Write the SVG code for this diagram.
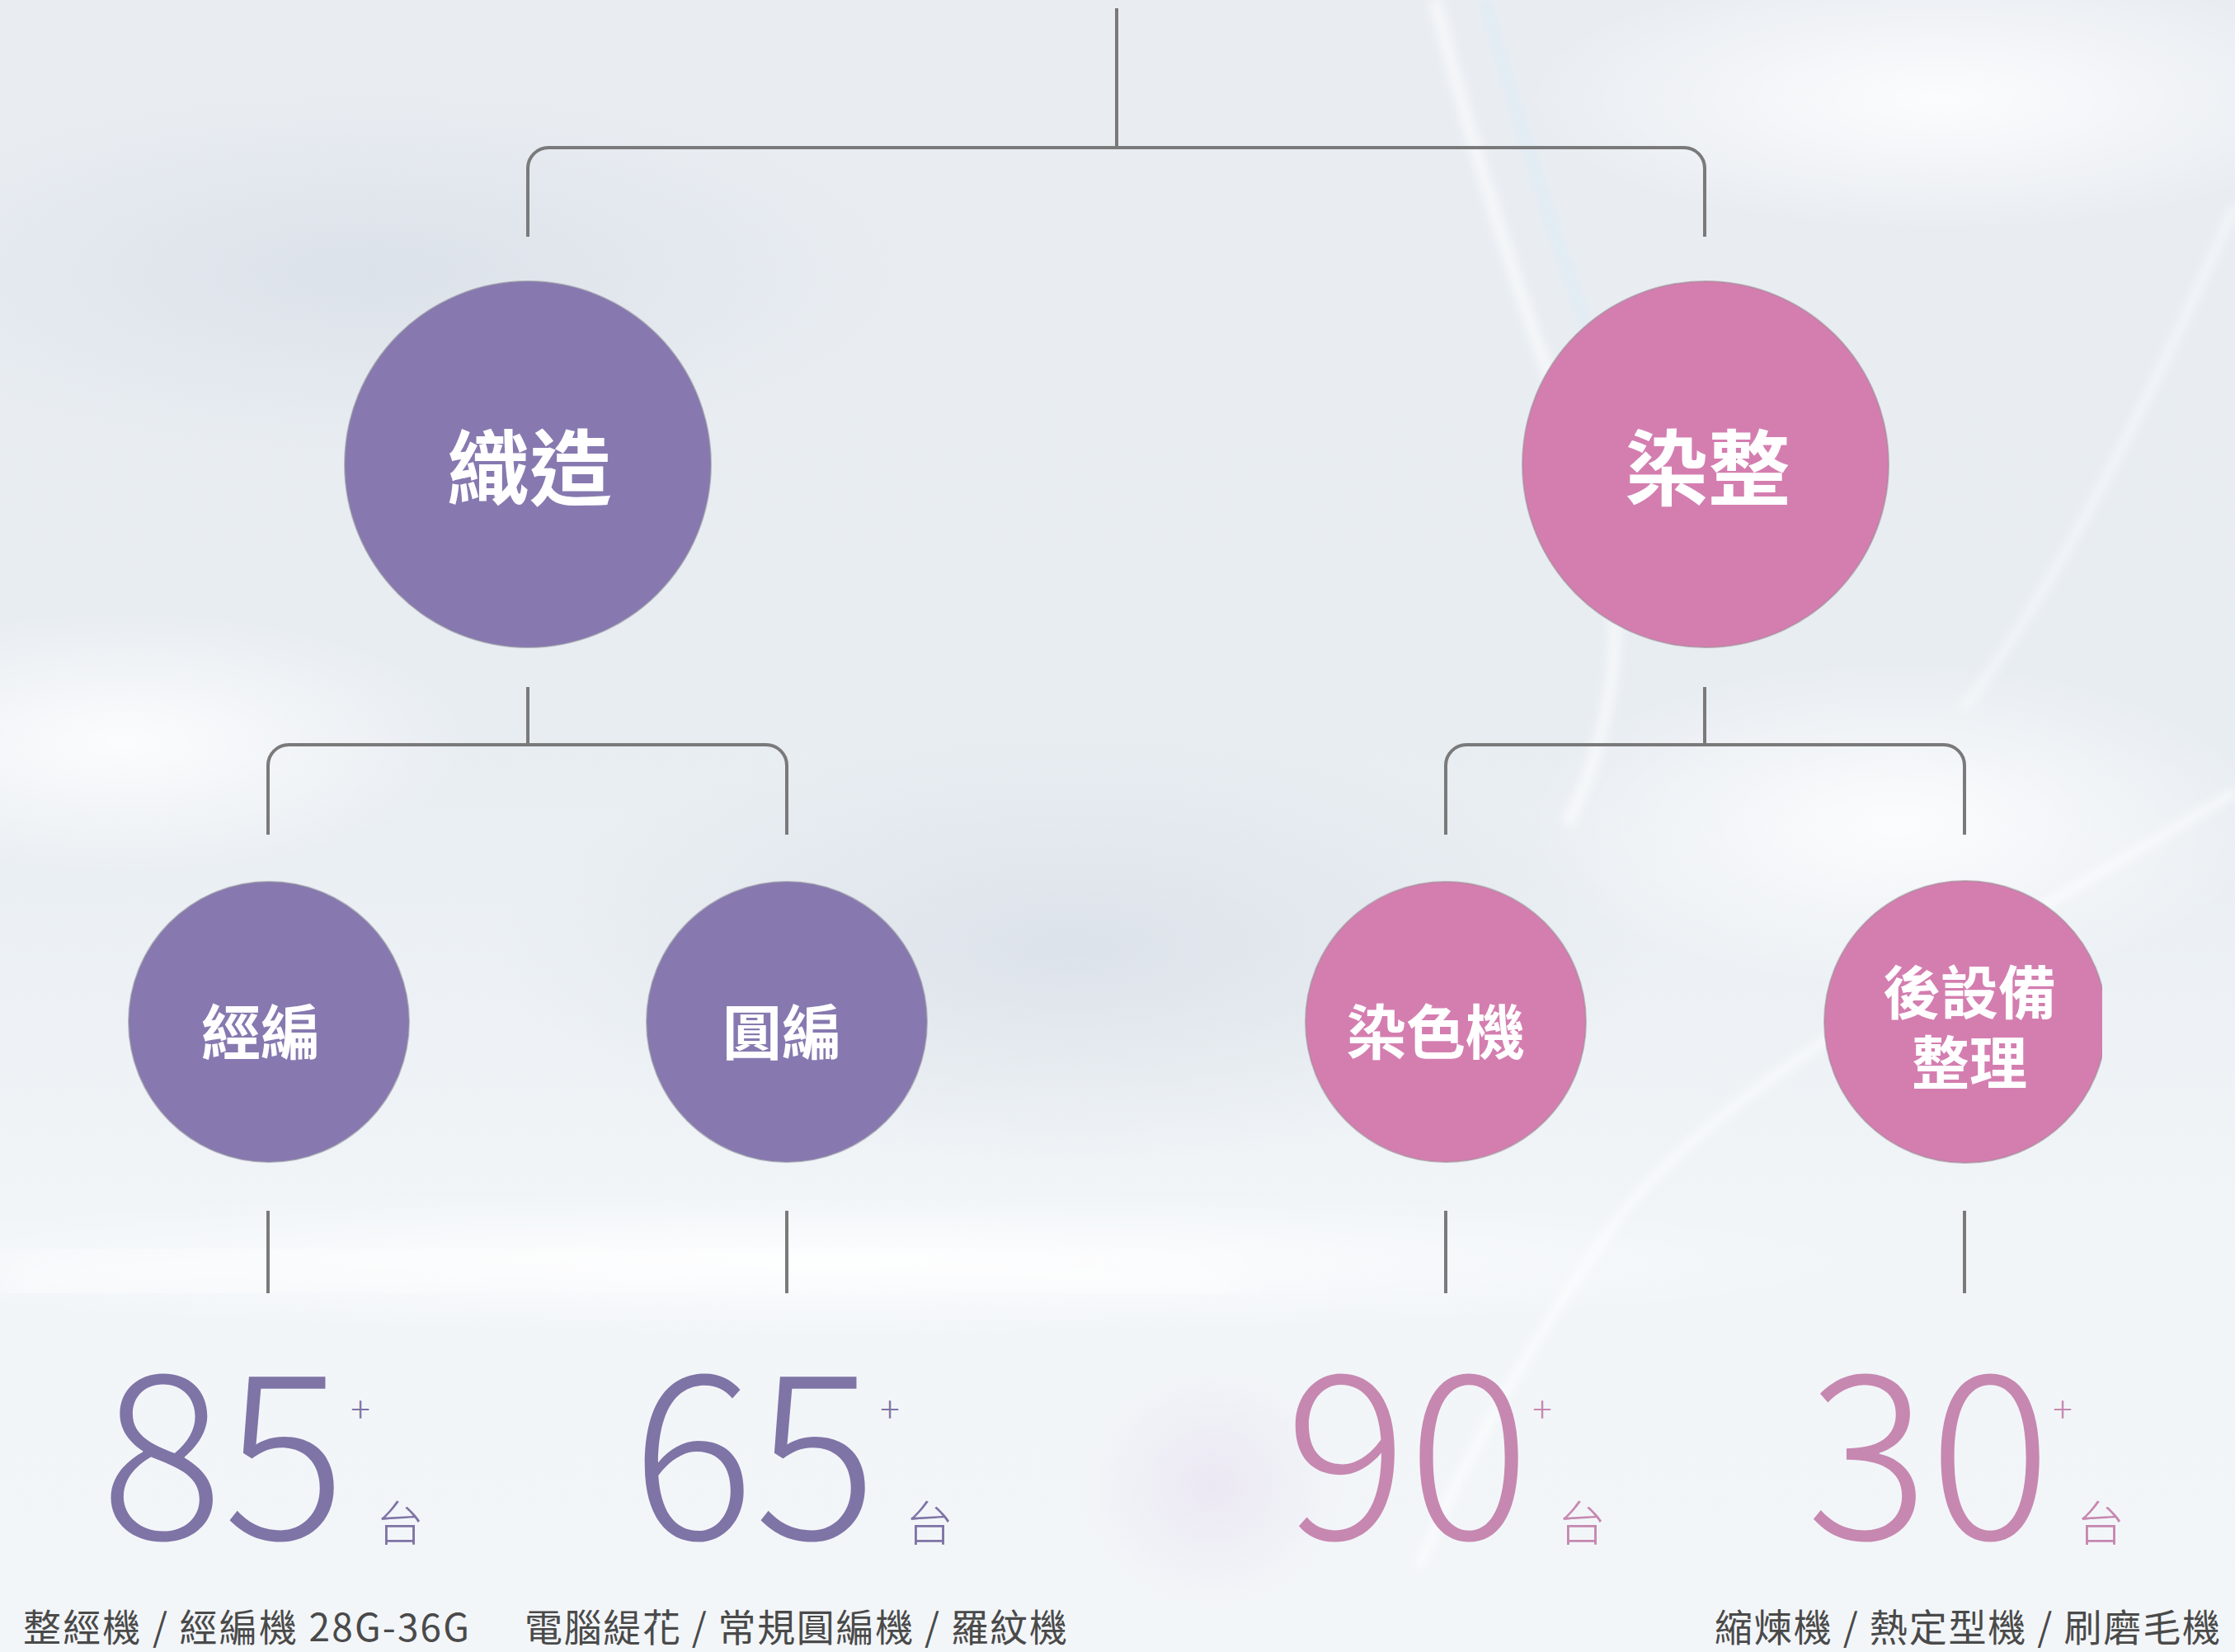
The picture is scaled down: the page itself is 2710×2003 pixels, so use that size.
<svg xmlns="http://www.w3.org/2000/svg" width="2710" height="2003" viewBox="0 0 2710 2003">
<defs>
  <linearGradient id="bg" x1="0" y1="0" x2="0" y2="1">
    <stop offset="0" stop-color="#e9edf2"/>
    <stop offset="0.45" stop-color="#e8edf2"/>
    <stop offset="0.75" stop-color="#f1f5f8"/>
    <stop offset="1" stop-color="#f3f6f9"/>
  </linearGradient>
  <radialGradient id="wblob" cx="0.5" cy="0.5" r="0.5">
    <stop offset="0" stop-color="#ffffff" stop-opacity="0.85"/>
    <stop offset="1" stop-color="#ffffff" stop-opacity="0"/>
  </radialGradient>
  <radialGradient id="gblob" cx="0.5" cy="0.5" r="0.5">
    <stop offset="0" stop-color="#d9dfe7" stop-opacity="0.8"/>
    <stop offset="1" stop-color="#d9dfe7" stop-opacity="0"/>
  </radialGradient>
  <radialGradient id="pblob" cx="0.5" cy="0.5" r="0.5">
    <stop offset="0" stop-color="#e6dcee" stop-opacity="0.55"/>
    <stop offset="1" stop-color="#e6dcee" stop-opacity="0"/>
  </radialGradient>
  <filter id="soft" x="-20%" y="-20%" width="140%" height="140%">
    <feGaussianBlur stdDeviation="6"/>
  </filter>
  <filter id="soft2" x="-20%" y="-20%" width="140%" height="140%">
    <feGaussianBlur stdDeviation="30"/>
  </filter>
  <clipPath id="clipR">
    <rect x="2150" y="1000" width="399" height="500"/>
  </clipPath>
  <style>
    .conn { fill: none; stroke: #7a7a7a; stroke-width: 4; stroke-linecap: butt; }
    .purple { fill: #8779b0; stroke: #8c8a9a; stroke-opacity: 0.55; stroke-width: 2; }
    .pink { fill: #d47eb0; stroke: #9a8a94; stroke-opacity: 0.55; stroke-width: 2; }
    .lbl { fill: #ffffff; font-family: "Noto Sans CJK TC", "Noto Sans CJK SC", sans-serif; font-weight: 700; text-anchor: middle; dominant-baseline: central; }
    .big { font-size: 100px; }
    .small { font-size: 72px; }
    .small2 { font-size: 70px; }
    .num { font-family: "Noto Sans CJK TC", "Noto Sans", sans-serif; font-weight: 300; font-size: 278px; }
    .plus { font-family: "Noto Sans CJK TC", sans-serif; font-weight: 300; font-size: 44px; text-anchor: middle; }
    .tai { font-family: "Noto Sans CJK TC", sans-serif; font-weight: 300; font-size: 58px; text-anchor: middle; dominant-baseline: central; }
    .cp { fill: #7f74a6; }
    .cr { fill: #c688b0; }
    .desc { fill: #4a4a4a; font-family: "Noto Sans CJK TC", "Noto Sans CJK SC", sans-serif; font-weight: 400; font-size: 46px; dominant-baseline: central; }
  </style>
</defs>

<g id="background">
  <rect x="0" y="0" width="2710" height="2003" fill="url(#bg)"/>
  <ellipse cx="450" cy="330" rx="650" ry="220" fill="url(#gblob)"/>
  <ellipse cx="1300" cy="1150" rx="700" ry="260" fill="url(#gblob)"/>
  <ellipse cx="150" cy="900" rx="420" ry="160" fill="url(#wblob)"/>
  <ellipse cx="2350" cy="120" rx="500" ry="160" fill="url(#wblob)"/>
  <ellipse cx="1000" cy="1530" rx="1300" ry="90" fill="url(#wblob)"/>
  <ellipse cx="2300" cy="1000" rx="450" ry="200" fill="url(#wblob)"/>
  <ellipse cx="1470" cy="1800" rx="160" ry="150" fill="url(#pblob)"/>
  <path d="M1740,0 C1790,200 1860,420 1940,620 C1980,760 1950,900 1900,1000" fill="none" stroke="#ffffff" stroke-width="14" stroke-opacity="0.6" filter="url(#soft)"/>
  <path d="M1800,0 C1850,180 1920,400 2000,600" fill="none" stroke="#d6eaf5" stroke-width="8" stroke-opacity="0.7" filter="url(#soft)"/>
  <path d="M2710,960 C2400,1150 2100,1300 1960,1480 C1860,1620 1780,1760 1720,1900" fill="none" stroke="#ffffff" stroke-width="9" stroke-opacity="0.7" filter="url(#soft)"/>
  <path d="M2710,250 C2600,500 2500,700 2380,860" fill="none" stroke="#ffffff" stroke-width="10" stroke-opacity="0.5" filter="url(#soft)"/>
  <path d="M0,1560 C500,1500 1000,1520 1500,1560" fill="none" stroke="#ffffff" stroke-width="60" stroke-opacity="0.55" filter="url(#soft2)"/>
</g>

<g id="connectors">
  <path class="conn" d="M1354,10 V179"/>
  <path class="conn" d="M640,287 V204 A25,25 0 0 1 665,179 H2042 A25,25 0 0 1 2067,204 V287"/>
  <path class="conn" d="M640,833 V903"/>
  <path class="conn" d="M325,1012 V928 A25,25 0 0 1 350,903 H929 A25,25 0 0 1 954,928 V1012"/>
  <path class="conn" d="M2067,833 V903"/>
  <path class="conn" d="M1753,1012 V928 A25,25 0 0 1 1778,903 H2357 A25,25 0 0 1 2382,928 V1012"/>
  <path class="conn" d="M325,1468 V1568"/>
  <path class="conn" d="M954,1468 V1568"/>
  <path class="conn" d="M1753,1468 V1568"/>
  <path class="conn" d="M2382,1468 V1568"/>
</g>

<g id="node-weaving">
  <circle class="purple" cx="640" cy="563" r="222"/>
  <text class="lbl big" x="642" y="561">織造</text>
</g>
<g id="node-dyeing">
  <circle class="pink" cx="2068" cy="563" r="222"/>
  <text class="lbl big" x="2071" y="561">染整</text>
</g>
<g id="node-warp">
  <circle class="purple" cx="326" cy="1239" r="170"/>
  <text class="lbl small" x="316" y="1246">經編</text>
</g>
<g id="node-circular">
  <circle class="purple" cx="954" cy="1239" r="170"/>
  <text class="lbl small" x="948" y="1246">圓編</text>
</g>
<g id="node-dyemachine">
  <circle class="pink" cx="1753" cy="1239" r="170"/>
  <text class="lbl small" x="1741" y="1246">染色機</text>
</g>
<g id="node-finishing">
  <circle class="pink" cx="2383" cy="1239" r="171" clip-path="url(#clipR)"/>
  <text class="lbl small2" x="2388" y="1199"><tspan x="2388" y="1199">後設備</tspan><tspan x="2388" y="1284">整理</tspan></text>
</g>

<g id="stat-warp">
  <text class="num cp" x="122" y="1866">85</text>
  <text class="plus cp" x="437" y="1725">+</text>
  <text class="tai cp" x="485" y="1843">台</text>
  <text class="desc" x="28" y="1970" textLength="541" lengthAdjust="spacing">整經機 / 經編機 28G-36G</text>
</g>
<g id="stat-circular">
  <text class="num cp" x="766" y="1866">65</text>
  <text class="plus cp" x="1079" y="1725">+</text>
  <text class="tai cp" x="1127" y="1843">台</text>
  <text class="desc" x="636" y="1970" textLength="658" lengthAdjust="spacing">電腦緹花 / 常規圓編機 / 羅紋機</text>
</g>
<g id="stat-dye">
  <text class="num cr" x="1558" y="1866">90</text>
  <text class="plus cr" x="1870" y="1725">+</text>
  <text class="tai cr" x="1918" y="1843">台</text>
</g>
<g id="stat-finish">
  <text class="num cr" x="2190" y="1866">30</text>
  <text class="plus cr" x="2501" y="1725">+</text>
  <text class="tai cr" x="2547" y="1843">台</text>
  <text class="desc" x="2079" y="1970" textLength="613" lengthAdjust="spacing">縮煉機 / 熱定型機 / 刷磨毛機</text>
</g>
</svg>
